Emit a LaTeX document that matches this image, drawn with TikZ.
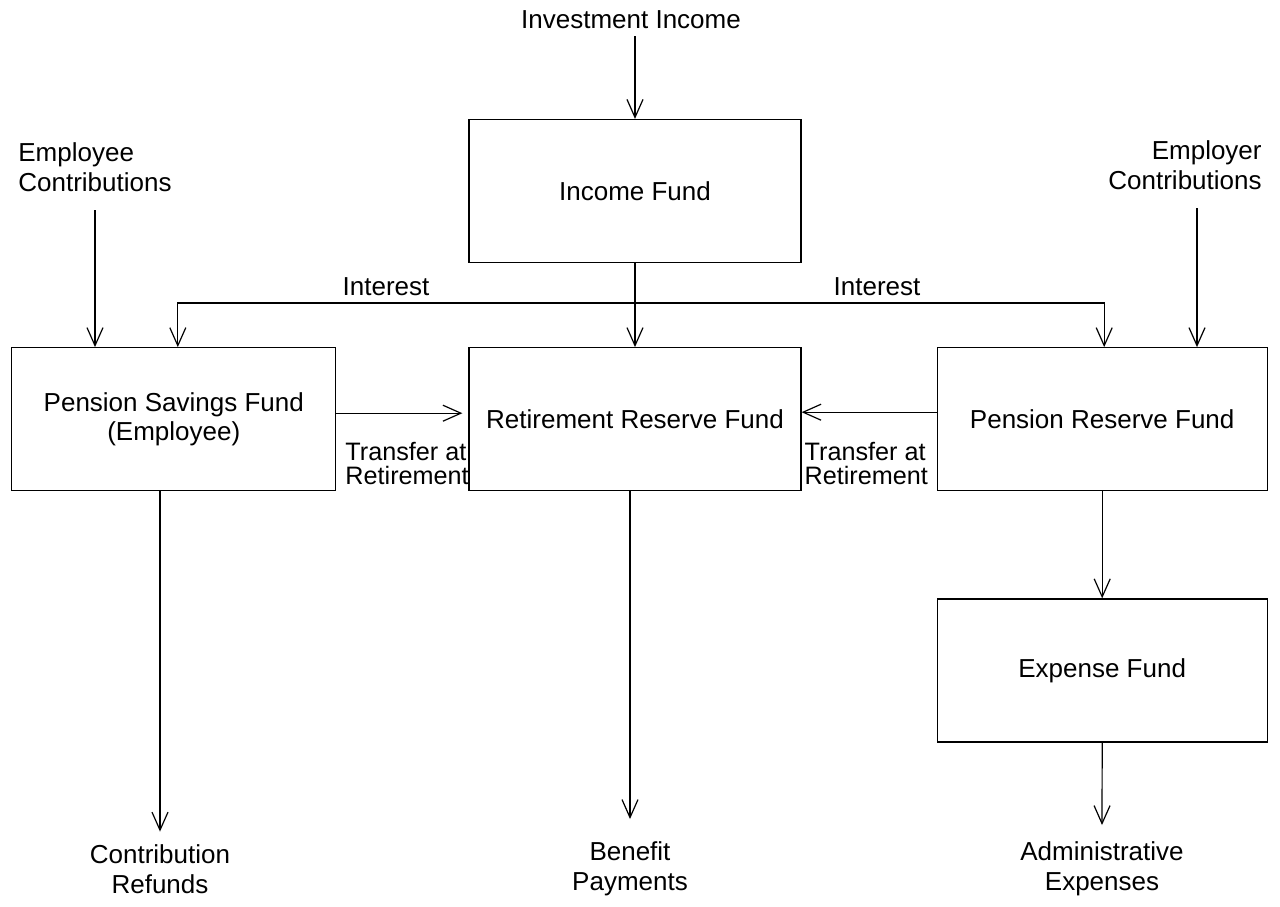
\documentclass[tikz,border=0pt]{standalone}
\usepackage{fontspec}
\setmainfont{Liberation Sans}
\usetikzlibrary{arrows.meta,positioning}
\newcommand{\diafont}{\fontsize{13}{14.8}\selectfont}
\newcommand{\xferfont}{\fontsize{12.6}{12}\selectfont}
\tikzset{%
  % boxes
  fund/.style={draw, line width=0.6pt, minimum width=166pt, minimum height=71.5pt, align=center, font=\diafont},
  txt/.style={align=center, font=\diafont},
  xfer/.style={align=left, font=\xferfont, anchor=north west},
  % edge styles
  flow/.style={-{Straight Barb[length=9pt,width=8pt]}, line width=0.6pt},
  biflow/.style={{Straight Barb[length=9pt,width=8pt]}-{Straight Barb[length=9pt,width=8pt]}, line width=0.6pt},
}

\begin{document}
\begin{tikzpicture}[x=0.5pt, y=-0.5pt]
  \useasboundingbox (0,0) rectangle (1280,906);

  % Funds
  \node[fund] (inc) at (635,191) {Income Fund};
  \node[fund, below=42pt of inc] (rrf) {Retirement Reserve Fund};
  \node[fund, left=66pt of rrf, minimum width=162pt] (psf) {Pension Savings Fund\\(Employee)};
  \node[fund, right=67.5pt of rrf, minimum width=165pt] (prf) {Pension Reserve Fund};
  \node[fund, below=53.5pt of prf, minimum width=165pt] (exp) {Expense Fund};

  % Sources and outlets
  \node[txt] (invinc) at (631,20) {Investment Income};
  \node[txt, align=left] (empin) at (95,167) {Employee\\Contributions};
  \node[txt, align=right] (emprin) at (1185,165) {Employer\\Contributions};
  \node[txt] (refund) at (160,869) {Contribution\\Refunds};
  \node[txt] (benefit) at (630,869) {Benefit\\Payments};
  \node[txt] (admin) at (1102,869) {Administrative\\Expenses};

  % Labels
  \node[txt] (intl) at (386,287) {Interest};
  \node[txt] (intr) at (877,287) {Interest};
  \node[xfer] (xferl) at ([xshift=1pt,yshift=-8pt]psf.east) {Transfer at\\Retirement};
  \node[xfer] (xferr) at ([xshift=-2pt,yshift=-8pt]rrf.east) {Transfer at\\Retirement};

  % Links
  \draw[flow] (invinc.south -| inc.north) -- (inc.north);
  \draw[flow] (inc.south) -- (rrf.north);
  \draw[flow] ([yshift=-6pt]empin.south) -- (empin.south |- psf.north);
  \coordinate[below right=6pt and 6pt of emprin.south] (emprtop);
  \draw[flow] (emprtop) -- (emprtop |- prf.north);

  \coordinate (intbar) at (0,303);
  \draw[biflow] ([xshift=2pt]psf.north) -- ([xshift=2pt]psf.north |- intbar)
    -- ([xshift=1pt]prf.north |- intbar) -- ([xshift=1pt]prf.north);

  \draw[flow, shorten >=3pt] ([yshift=3pt]psf.east) -- ([yshift=3pt]rrf.west);
  \draw[flow] ([yshift=3.5pt]prf.west) -- ([yshift=3.5pt]rrf.east);

  \draw[flow] (refund.north |- psf.south) -- ([yshift=3pt]refund.north);
  \draw[flow] (benefit.north |- rrf.south) -- ([yshift=8pt]benefit.north);
  \draw[flow] (prf.south) -- (exp.north);
  \draw[flow] (exp.south) -- ([yshift=5pt]admin.north);
\end{tikzpicture}
\end{document}
